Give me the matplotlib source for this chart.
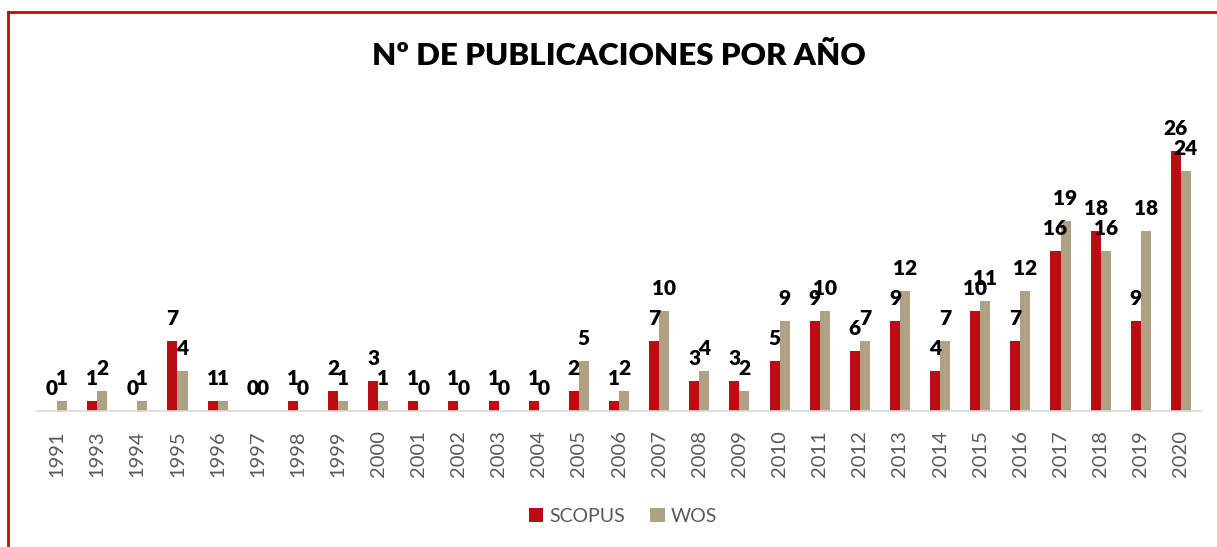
import numpy as np
import matplotlib.pyplot as plt
from matplotlib.lines import Line2D

# Datos del gráfico
anios = ["1991", "1993", "1994", "1995", "1996", "1997", "1998", "1999", "2000",
         "2001", "2002", "2003", "2004", "2005", "2006", "2007", "2008", "2009",
         "2010", "2011", "2012", "2013", "2014", "2015", "2016", "2017", "2018",
         "2019", "2020"]
scopus = [0, 1, 0, 7, 1, 0, 1, 2, 3, 1, 1, 1, 1, 2, 1, 7, 3, 3, 5, 9, 6, 9, 4,
          10, 7, 16, 18, 9, 26]
wos = [1, 2, 1, 4, 1, 0, 0, 1, 1, 0, 0, 0, 0, 5, 2, 10, 4, 2, 9, 10, 7, 12, 7,
       11, 12, 19, 16, 18, 24]

rojo = "#BA0C12"
beige = "#B0A184"
gris = "#595959"

plt.rcParams['font.family'] = ['Lato', 'DejaVu Sans']

fig = plt.figure(figsize=(12.17, 5.47), dpi=100)
ax = fig.add_axes([37 / 1217, 1 - 411 / 547, (1201 - 37) / 1217, 300 / 547])

x = np.arange(len(anios))
ancho = 0.25
b1 = ax.bar(x - ancho / 2, scopus, ancho, color=rojo, label="SCOPUS")
b2 = ax.bar(x + ancho / 2, wos, ancho, color=beige, label="WOS")

for barras, valores in ((b1, scopus), (b2, wos)):
    for b, v in zip(barras, valores):
        ax.annotate(str(v), (b.get_x() + b.get_width() / 2, v),
                    xytext=(0, 11.5), textcoords="offset points",
                    ha="center", va="baseline", fontsize=15,
                    fontweight="heavy", color="black")

ax.set_xlim(-0.5, len(anios) - 0.5)
ax.set_ylim(0, 30)
ax.set_xticks(x)
ax.set_xticklabels(anios, rotation=90, fontsize=14.5, color=gris)
ax.tick_params(axis="x", length=0, pad=14)
ax.set_yticks([])
for s in ["top", "right", "left"]:
    ax.spines[s].set_visible(False)
ax.spines["bottom"].set_color("#D9D9D9")
ax.spines["bottom"].set_linewidth(1.2)

fig.text(619 / 1217, 1 - 56 / 547, "Nº DE PUBLICACIONES POR AÑO", ha="center",
         va="center", fontsize=22.5, fontweight="heavy", color="black")

leg = fig.legend(loc="center", bbox_to_anchor=(623 / 1217, 1 - 516 / 547),
                 ncol=2, frameon=False, fontsize=14, handlelength=0.75,
                 handleheight=0.75, handletextpad=0.3, columnspacing=1.3)
for t in leg.get_texts():
    t.set_color(gris)

# marco rojo (solo arriba e izquierda visibles)
fig.add_artist(Line2D([7.5 / 1217, 1], [1 - 12 / 547, 1 - 12 / 547],
                      transform=fig.transFigure, color=rojo, linewidth=2))
fig.add_artist(Line2D([7.5 / 1217, 7.5 / 1217], [0, 1 - 12 / 547],
                      transform=fig.transFigure, color=rojo, linewidth=2))

fig.savefig("out.png", dpi=100)
